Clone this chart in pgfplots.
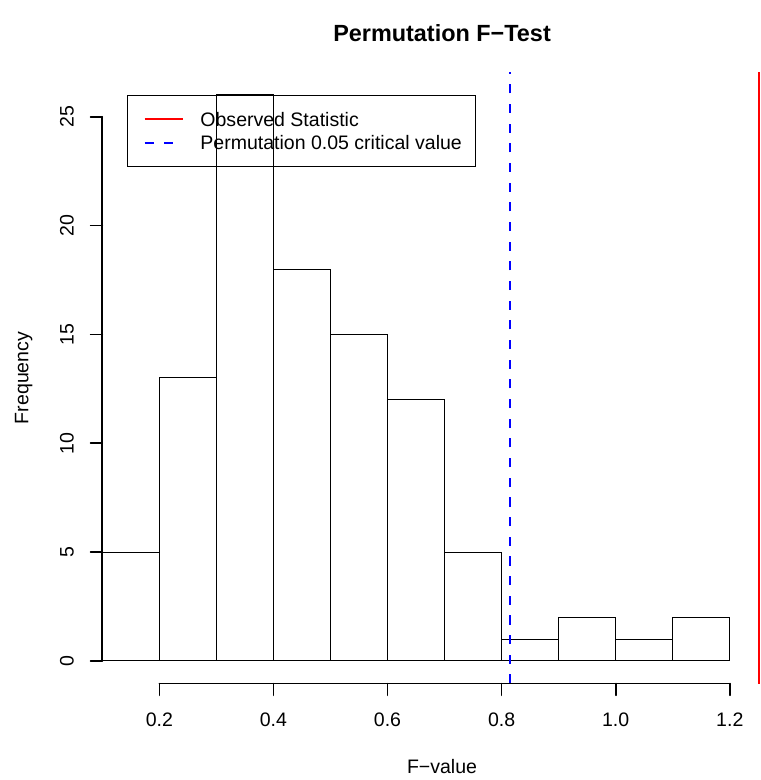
\documentclass[border=0pt]{standalone}
\usepackage{pgfplots}
\pgfplotsset{compat=1.18}
\usepackage{fontspec}
\setmainfont{Liberation Sans}
\newcommand{\rfont}{\fontsize{12}{14.4}\selectfont}
\begin{document}
\begin{tikzpicture}
\begin{axis}[
    scale only axis,
    width=404.5pt, height=375.9pt,
    xmin=0.1, xmax=1.2531,
    ymin=-1.04, ymax=27.04,
    clip=false,
    axis x line*=bottom, axis y line*=left,
    axis line style={draw=none},
    tick align=outside,
    major tick length=7.2pt,
    every tick/.style={black, line width=1pt, line cap=round},
    xtick={0.2,0.4,0.6,0.8,1.0,1.2},
    xticklabels={0.2,0.4,0.6,0.8,1.0,1.2},
    ytick={0,5,10,15,20,25},
    yticklabels={0,5,10,15,20,25},
    xticklabel style={font=\rfont, anchor=base, inner sep=0pt, yshift=-18.9pt},
    yticklabel style={font=\rfont, anchor=base, inner sep=0pt, rotate=90, yshift=10.5pt},
    title={Permutation F−Test},
    title style={at={(rel axis cs:0.5165,1.0348)}, anchor=base, inner sep=0pt,
        font=\fontsize{14.4}{17}\selectfont\bfseries},
    xlabel={F−value},
    xlabel style={at={(rel axis cs:0.5165,-0.1475)}, anchor=base, inner sep=0pt, font=\rfont},
    ylabel={Frequency},
    ylabel style={at={(rel axis cs:-0.1125,0.5)}, anchor=base, inner sep=0pt, font=\rfont},
    legend style={at={(0.038,0.9629)}, anchor=north west, draw=black, line width=0.6pt,
        fill=none, inner xsep=8.4pt, inner ysep=7.25pt, row sep=0pt, column sep=10pt,
        font=\rfont, nodes={inner sep=0pt, text height=11.65pt, text depth=2.95pt}},
    legend cell align=left,
    legend image code/.code={\path (0pt,0pt); \draw[#1] (1.3pt,0pt) -- (24.9pt,0pt);},
    ]
% histogram of permutation F values, bins of width 0.1
\addplot[ybar interval, draw=black, fill=none, line width=0.6pt, forget plot]
    coordinates {(0.1,5) (0.2,13) (0.3,26) (0.4,18) (0.5,15) (0.6,12) (0.7,5)
                 (0.8,1) (0.9,2) (1.0,1) (1.1,2) (1.2,2)};
% observed statistic
\addplot[red, line width=1.25pt] coordinates {(1.2514,-1.04) (1.2514,27.04)};
\addlegendentry{Observed Statistic}
% 0.05 critical value
\addplot[blue, line width=1.4pt, dash pattern=on 5.6pt off 6.5pt]
    coordinates {(0.8148,-1.04) (0.8148,27.04)};
\addlegendentry{Permutation 0.05 critical value}
% R style axis lines, only from first to last tick
\draw[line width=1pt, line cap=round] (axis cs:0.2,-1.04) -- (axis cs:1.2,-1.04);
\draw[line width=1pt, line cap=round] (axis cs:0.1,0) -- (axis cs:0.1,25);
\coordinate (bbsw) at (rel axis cs:-0.1555,-0.1577);
\coordinate (bbne) at (rel axis cs:1,1.1183);
\end{axis}
\pgfresetboundingbox
\path[use as bounding box] (bbsw) rectangle (bbne);
\end{tikzpicture}
\end{document}
